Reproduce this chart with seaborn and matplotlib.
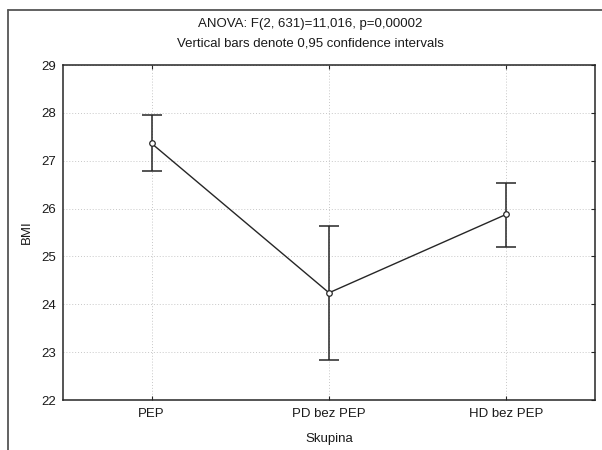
import matplotlib
matplotlib.use("Agg")
import matplotlib.pyplot as plt
import seaborn as sns
import pandas as pd
import numpy as np
from matplotlib.lines import Line2D

# Data
groups = ["PEP", "PD bez PEP", "HD bez PEP"]
means = [27.36, 24.24, 25.88]
ci_low = [26.79, 22.84, 25.20]
ci_high = [27.96, 25.64, 26.53]
yticks = [22, 23, 24, 25, 26, 27, 28, 29]
title1 = "ANOVA: F(2, 631)=11,016, p=0,00002"
title2 = "Vertical bars denote 0,95 confidence intervals"

sns.set_theme(style="white")
plt.rcParams['font.family'] = ['Liberation Sans', 'DejaVu Sans']
FS = 9.5
plt.rcParams['font.size'] = FS

fig = plt.figure(figsize=(6.02, 4.5), dpi=100)
L, R, T, B = 63, 595, 65, 400
ax = fig.add_axes([L/602, 1-B/450, (R-L)/602, (B-T)/450])

df = pd.DataFrame({"Skupina": groups, "BMI": means})
ink = "#262626"
txt = "#1a1a1a"

# error bars (CI)
pos = np.arange(len(groups))
lo = np.array(means) - np.array(ci_low)
hi = np.array(ci_high) - np.array(means)
ax.errorbar(pos, means, yerr=[lo, hi], fmt="none", ecolor=ink,
            elinewidth=1.1, capsize=7, capthick=1.1, zorder=2)

sns.lineplot(data=df, x="Skupina", y="BMI", sort=False, color=ink,
             linewidth=1.0, ax=ax, zorder=3)
sns.scatterplot(data=df, x="Skupina", y="BMI", color="white",
                edgecolor=ink, linewidth=0.9, s=16, ax=ax, zorder=4)

ax.set_xlim(-0.5, 2.5)
ax.set_ylim(22, 29)
ax.set_yticks(yticks)
ax.set_xticks(pos)
ax.set_xticklabels(groups)

for s in ax.spines.values():
    s.set_color(ink)
    s.set_linewidth(1.1)

ax.grid(True, linestyle=(0, (1, 2)), color="#c8c8c8", linewidth=0.7)
ax.set_axisbelow(True)
ax.tick_params(axis="both", which="both", direction="in", length=3,
               width=0.8, color=ink, labelsize=FS, labelcolor=txt,
               top=True, right=True, left=False, bottom=True)
ax.tick_params(axis="y", pad=5)
ax.tick_params(axis="x", pad=6)

ax.set_xlabel("Skupina", fontsize=FS, color=txt, va="center")
ax.set_ylabel("BMI", fontsize=FS, color=txt, va="center")
ax.xaxis.set_label_coords(0.5, (B - 439) / (B - T))
ax.yaxis.set_label_coords((27 - L) / (R - L), 0.5)

cx = 310 / 602
fig.text(cx, 1 - 26.7/450, title1, ha="center", va="baseline", fontsize=FS, color=txt)
fig.text(cx, 1 - 46.7/450, title2, ha="center", va="baseline", fontsize=FS, color=txt)

# outer frame lines (top and left)
fig.add_artist(Line2D([8/602, 1.0], [1 - 9.5/450, 1 - 9.5/450], transform=fig.transFigure,
                      color="#555555", linewidth=1.3))
fig.add_artist(Line2D([8/602, 8/602], [0, 1 - 9.5/450], transform=fig.transFigure,
                      color="#555555", linewidth=1.3))

fig.savefig("out.png", dpi=100)
